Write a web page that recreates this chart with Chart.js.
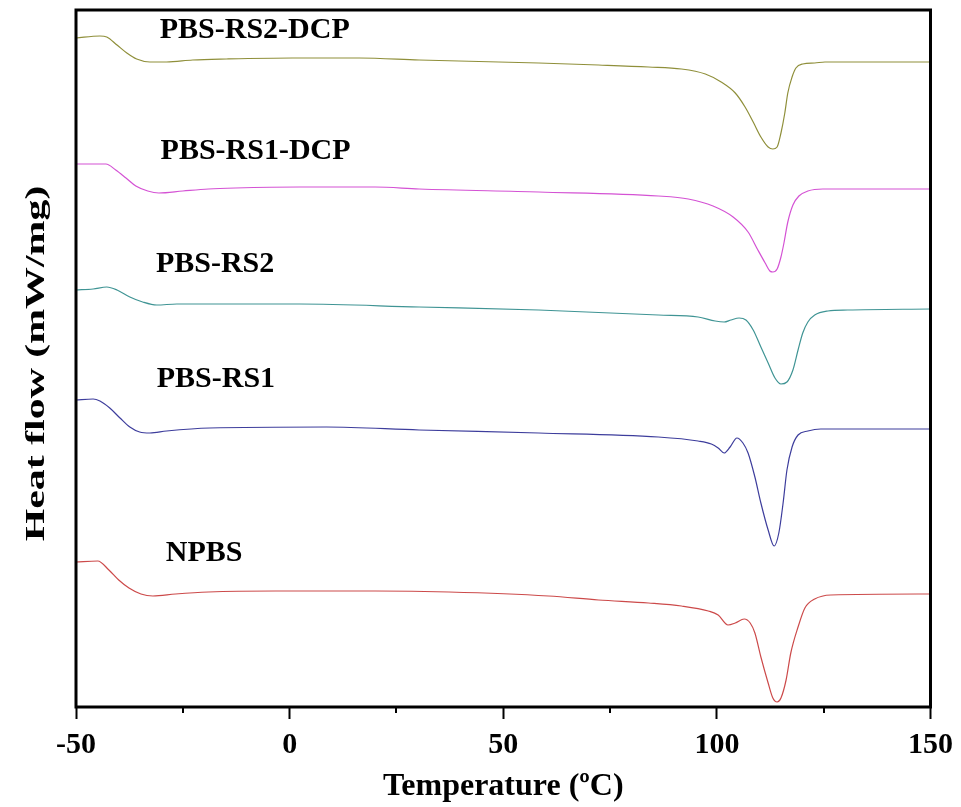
<!DOCTYPE html>
<html>
<head>
<meta charset="utf-8">
<title>DSC heating curves</title>
<script src="https://cdn.jsdelivr.net/npm/chart.js@4.4.1/dist/chart.umd.min.js"></script>
<style>
    html, body { margin: 0; padding: 0; background: #fff; }
    #wrap { width: 961px; height: 807px; }
</style>
</head>
<body>
<div id="wrap"><canvas id="dsc-chart" width="961" height="807"></canvas></div>
<script>
// DSC heating scans - temperature (degC) vs heat flow, curves stacked with offsets

const rs2DcpTemp = [-50, -44.4, -42.8, -40.4, -38.1, -35.8, -32.7, -28.8, -22.7, -14.8, 0.6, 16.3, 30.3, 58.3, 72.3, 84.0, 91.7, 97.3, 101.0, 104.3, 106.6, 108.5, 110.3, 112.0, 113.1, 114.1, 115.0, 115.9, 116.6, 117.6, 118.5, 120.1, 122.9, 125.3, 150];
const rs2DcpFlow = [6.69, 6.71, 6.70, 6.62, 6.54, 6.48, 6.45, 6.45, 6.47, 6.48, 6.49, 6.49, 6.47, 6.44, 6.42, 6.40, 6.38, 6.33, 6.25, 6.14, 6.00, 5.85, 5.70, 5.60, 5.58, 5.60, 5.74, 5.94, 6.14, 6.30, 6.39, 6.43, 6.44, 6.45, 6.45];

const rs1DcpTemp = [-50, -43.0, -40.7, -38.3, -36.0, -33.2, -30.6, -25.0, -19.0, -12.7, 2.3, 20.0, 30.3, 58.3, 86.3, 93.3, 99.1, 103.8, 107.3, 109.6, 111.3, 112.4, 113.1, 114.1, 115.0, 115.7, 116.6, 117.8, 119.2, 121.3, 124.8, 150];
const rs1DcpFlow = [5.43, 5.43, 5.37, 5.29, 5.21, 5.16, 5.14, 5.16, 5.18, 5.19, 5.20, 5.20, 5.18, 5.15, 5.11, 5.08, 5.01, 4.90, 4.75, 4.57, 4.44, 4.36, 4.35, 4.38, 4.50, 4.64, 4.85, 5.02, 5.11, 5.16, 5.18, 5.18];

const rs2Temp = [-50, -46.0, -42.8, -40.4, -37.4, -34.4, -31.1, -26.4, -14.8, 2.3, 30.3, 58.3, 86.3, 95.6, 99.6, 101.7, 103.3, 105.2, 106.8, 108.5, 110.3, 112.0, 113.6, 115.0, 116.4, 117.8, 119.0, 120.1, 121.3, 122.9, 126.0, 130.6, 150];
const rs2Flow = [4.17, 4.18, 4.20, 4.17, 4.10, 4.05, 4.02, 4.03, 4.03, 4.03, 4.00, 3.97, 3.92, 3.90, 3.86, 3.85, 3.87, 3.89, 3.87, 3.77, 3.60, 3.44, 3.29, 3.23, 3.25, 3.37, 3.57, 3.74, 3.85, 3.92, 3.96, 3.97, 3.98];

const rs1Temp = [-50, -46.0, -44.4, -42.1, -39.7, -37.4, -35.1, -32.7, -28.8, -18.7, 8.6, 30.3, 58.3, 86.3, 95.6, 98.7, 100.3, 101.7, 103.1, 104.7, 106.1, 107.3, 108.9, 110.3, 112.0, 113.4, 114.5, 115.5, 116.4, 117.6, 119.0, 121.3, 124.3, 150];
const rs1Flow = [3.07, 3.08, 3.06, 2.99, 2.89, 2.80, 2.75, 2.74, 2.76, 2.79, 2.80, 2.77, 2.74, 2.70, 2.66, 2.63, 2.59, 2.54, 2.60, 2.69, 2.64, 2.54, 2.30, 2.04, 1.77, 1.61, 1.74, 2.04, 2.37, 2.60, 2.72, 2.76, 2.78, 2.78];

const npbsTemp = [-50, -44.9, -42.3, -40.0, -37.6, -34.8, -32.0, -26.7, -19.0, -3.3, 20.0, 37.3, 60.6, 72.3, 84.0, 91.7, 98.0, 100.3, 102.6, 104.3, 106.4, 107.8, 108.9, 110.3, 112.0, 113.1, 114.1, 115.0, 116.2, 117.3, 119.0, 120.6, 122.9, 126.7, 150];
const npbsFlow = [1.45, 1.46, 1.37, 1.27, 1.19, 1.13, 1.11, 1.13, 1.15, 1.16, 1.16, 1.15, 1.11, 1.07, 1.04, 1.01, 0.96, 0.92, 0.82, 0.84, 0.88, 0.84, 0.74, 0.50, 0.24, 0.09, 0.05, 0.09, 0.27, 0.54, 0.80, 0.99, 1.08, 1.12, 1.13];

const xMajorTicks = [-50, 0, 50, 100, 150];
const xMinorTicks = [-25, 25, 75, 125];

const FONT = '"Liberation Serif", "Times New Roman", serif';

function toPoints(temps, flows) {
    return temps.map((t, i) => ({ x: t, y: flows[i] }));
}

// where each curve name sits (data coords, left / baseline)
const curveLabels = [
    { text: 'PBS-RS2-DCP', x: -30.4, y: 6.69 },
    { text: 'PBS-RS1-DCP', x: -30.2, y: 5.48 },
    { text: 'PBS-RS2', x: -31.3, y: 4.35 },
    { text: 'PBS-RS1', x: -31.1, y: 3.20 },
    { text: 'NPBS', x: -29.0, y: 1.46 }
];

const framePlugin = {
    id: 'frame',
    afterDraw(chart) {
        const { ctx, chartArea: a, scales } = chart;
        ctx.save();
        // box around plot
        ctx.strokeStyle = '#000';
        ctx.lineWidth = 3;
        ctx.strokeRect(a.left, a.top, a.right - a.left, a.bottom - a.top);

        // minor ticks on x
        ctx.lineWidth = 2;
        xMinorTicks.forEach(v => {
            const px = Math.round(scales.x.getPixelForValue(v));
            ctx.beginPath();
            ctx.moveTo(px, a.bottom);
            ctx.lineTo(px, a.bottom + 6);
            ctx.stroke();
        });

        // curve names
        ctx.fillStyle = '#000';
        ctx.font = 'bold 30px ' + FONT;
        ctx.textAlign = 'left';
        ctx.textBaseline = 'alphabetic';
        curveLabels.forEach(l => {
            ctx.fillText(l.text, scales.x.getPixelForValue(l.x), scales.y.getPixelForValue(l.y));
        });

        // y title (tall, narrow lettering like the original)
        ctx.translate(37, (a.top + a.bottom) / 2 + 5);
        ctx.rotate(-Math.PI / 2);
        ctx.scale(1.55, 1);
        ctx.font = 'bold 27px ' + FONT;
        ctx.textAlign = 'center';
        ctx.textBaseline = 'middle';
        ctx.fillText('Heat flow (mW/mg)', 0, 0);
        ctx.restore();
    }
};

const ctx = document.getElementById('dsc-chart');

new Chart(ctx, {
    type: 'line',
    data: {
        datasets: [
            { label: 'PBS-RS2-DCP', data: toPoints(rs2DcpTemp, rs2DcpFlow), borderColor: '#8f8f3a' },
            { label: 'PBS-RS1-DCP', data: toPoints(rs1DcpTemp, rs1DcpFlow), borderColor: '#d452d4' },
            { label: 'PBS-RS2', data: toPoints(rs2Temp, rs2Flow), borderColor: '#3f9494' },
            { label: 'PBS-RS1', data: toPoints(rs1Temp, rs1Flow), borderColor: '#3d3d9c' },
            { label: 'NPBS', data: toPoints(npbsTemp, npbsFlow), borderColor: '#cc4a4a' }
        ]
    },
    options: {
        responsive: false,
        animation: false,
        devicePixelRatio: 1,
        layout: { padding: { top: 10, right: 28, left: 0, bottom: 0 } },
        elements: {
            line: { borderWidth: 1.2, cubicInterpolationMode: 'monotone', fill: false },
            point: { radius: 0 }
        },
        plugins: {
            legend: { display: false },
            tooltip: { enabled: false }
        },
        scales: {
            x: {
                type: 'linear',
                min: -50,
                max: 150,
                afterBuildTicks: scale => { scale.ticks = xMajorTicks.map(v => ({ value: v })); },
                afterFit: scale => { scale.height = 100; },
                grid: {
                    drawOnChartArea: false,
                    tickLength: 12,
                    tickWidth: 2,
                    tickColor: '#000'
                },
                border: { display: false },
                ticks: {
                    color: '#000',
                    padding: 8,
                    maxRotation: 0,
                    font: { family: FONT, size: 30, weight: 'bold' }
                },
                title: {
                    display: true,
                    text: 'Temperature (\u00baC)',
                    color: '#000',
                    padding: { top: 0, bottom: 1 },
                    font: { family: FONT, size: 32, weight: 'bold' }
                }
            },
            y: {
                type: 'linear',
                min: 0,
                max: 6.97,
                afterFit: scale => { scale.width = 76; },
                grid: { display: false },
                border: { display: false },
                ticks: { display: false }
            }
        }
    },
    plugins: [framePlugin]
});
</script>
</body>
</html>
